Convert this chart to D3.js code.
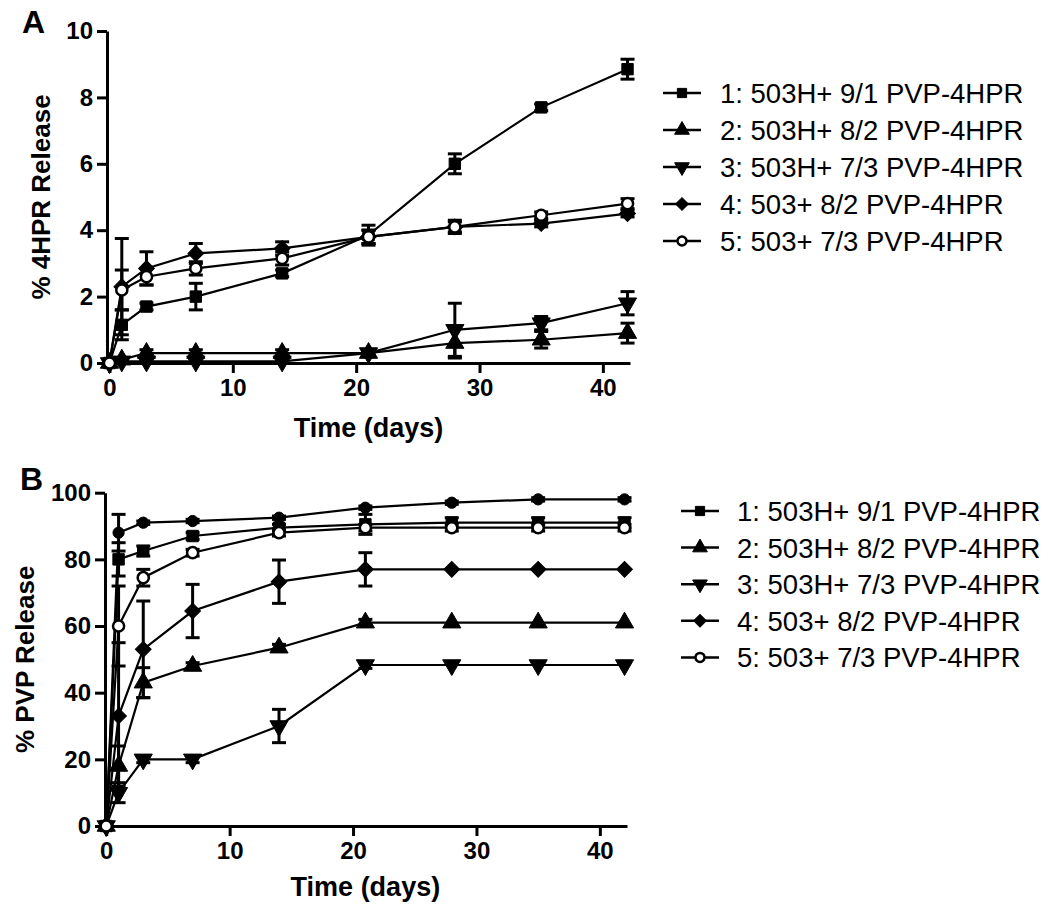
<!DOCTYPE html>
<html><head><meta charset="utf-8">
<script src="https://cdn.jsdelivr.net/npm/d3@7"></script>
<style>
body{margin:0;background:#fff;}
text{font-family:"Liberation Sans",Arial,sans-serif;fill:#000;}
</style></head>
<body><svg id="c" width="1050" height="912"></svg>
<script>
// ---------- DATA ----------
const timesA = [0, 1, 3, 7, 14, 21, 28, 35, 42];
const timesB = [0, 1, 3, 7, 14, 21, 28, 35, 42];
const legendLabels = ["1: 503H+ 9/1 PVP-4HPR","2: 503H+ 8/2 PVP-4HPR","3: 503H+ 7/3 PVP-4HPR","4: 503+ 8/2 PVP-4HPR","5: 503+ 7/3 PVP-4HPR"];
const markerTypes = ["square","triUp","triDown","diamond","openCircle"];

// Panel A: % 4HPR release (mean, error)
const a1 = [0, 1.15, 1.7, 2.0, 2.7, 3.85, 6.0, 7.7, 8.85];
const a1e = [0, 0.45, 0.1, 0.4, 0.1, 0.3, 0.3, 0.1, 0.3];
const a2 = [0, 0.1, 0.3, 0.3, 0.3, 0.3, 0.6, 0.7, 0.9];
const a2e = [0, 0.05, 0.1, 0.1, 0.1, 0.1, 0.45, 0.25, 0.3];
const a3 = [0, 0.05, 0.05, 0.05, 0.05, 0.3, 1.0, 1.2, 1.8];
const a3e = [0, 0, 0, 0, 0, 0.05, 0.8, 0.2, 0.35];
const a4 = [0, 2.3, 2.85, 3.3, 3.45, 3.8, 4.1, 4.2, 4.5];
const a4e = [0, 1.45, 0.5, 0.3, 0.2, 0.2, 0.15, 0.1, 0.1];
const a5 = [0, 2.2, 2.6, 2.85, 3.15, 3.8, 4.1, 4.45, 4.8];
const a5e = [0, 0.6, 0.25, 0.2, 0.2, 0.2, 0.2, 0.1, 0.15];

// Panel B: % PVP release (mean, error)
const b1 = [0, 80, 82.5, 87, 89.5, 90.5, 91, 91, 91];
const b1e = [0, 5, 1.5, 1, 1, 3, 1.5, 1.5, 1.5];
const b2 = [0, 18, 43, 48, 53.5, 61, 61, 61, 61];
const b2e = [0, 6, 4.5, 1, 1, 1, 0, 0, 0];
const b3 = [0, 10, 20, 20, 30, 48.3, 48.3, 48.3, 48.3];
const b3e = [0, 3, 1, 1, 5, 1, 0, 0, 0];
const b4 = [0, 33, 53, 64.5, 73.3, 77, 77, 77, 77];
const b4e = [0, 22, 14.5, 8, 6.5, 5, 0, 0, 0];
const b5 = [0, 60, 74.5, 82, 88, 89.5, 89.5, 89.5, 89.5];
const b5e = [0, 12, 2.5, 1, 1, 1, 1, 1, 1];
const b6 = [0, 88, 91, 91.5, 92.5, 95.5, 97, 98, 98];   // extra curve (filled dots), not in legend
const b6e = [0, 5.5, 0.5, 0.5, 0.5, 0.5, 0.5, 0.5, 0.5];

const xTicks = [0, 10, 20, 30, 40];
const yTicksA = [0, 2, 4, 6, 8, 10];
const yTicksB = [0, 20, 40, 60, 80, 100];

// ---------- DRAW ----------
const svg = d3.select("#c");

function symbolPath(type, size){
  switch(type){
    case "square": return d3.symbol().type(d3.symbolSquare).size(size*1.0)();
    case "triUp": return d3.symbol().type(d3.symbolTriangle).size(size*1.1)();
    case "triDown": return d3.symbol().type(d3.symbolTriangle).size(size*1.1)();
    case "diamond": return d3.symbol().type(d3.symbolSquare).size(size*0.95)();
    case "openCircle": return d3.symbol().type(d3.symbolCircle).size(size*0.75)();
    case "dot": return d3.symbol().type(d3.symbolCircle).size(size*0.9)();
  }
}
function drawMarker(g, type, x, y, size){
  const rot = type==="triDown" ? 180 : (type==="diamond" ? 45 : 0);
  g.append("path").attr("d", symbolPath(type, size))
    .attr("transform", `translate(${x},${y}) rotate(${rot})`)
    .attr("fill", type==="openCircle" ? "#fff" : "#000")
    .attr("stroke", "#000").attr("stroke-width", type==="openCircle" ? 2.5 : 1);
}

function panel(cfg){
  const g = svg.append("g");
  const x = d3.scaleLinear().domain(cfg.xDomain).range(cfg.xRange);
  const y = d3.scaleLinear().domain(cfg.yDomain).range(cfg.yRange);

  const xa = g.append("g").attr("transform", `translate(0,${cfg.yRange[0]})`)
    .call(d3.axisBottom(x).tickValues(xTicks).tickSize(10).tickSizeOuter(0).tickPadding(6));
  const ya = g.append("g").attr("transform", `translate(${cfg.xRange[0]},0)`)
    .call(d3.axisLeft(y).tickValues(cfg.yTicks).tickSize(10).tickSizeOuter(0).tickPadding(4));
  [xa, ya].forEach(a=>{
    a.select(".domain").attr("stroke","#000").attr("stroke-width",3);
    a.selectAll(".tick line").attr("stroke","#000").attr("stroke-width",3);
    a.selectAll(".tick text").attr("font-size",24).attr("font-weight","bold")
      .attr("font-family","'Liberation Sans',Arial,sans-serif").attr("fill","#000");
  });

  // axis titles
  g.append("text").attr("x", (x(0)+x(42))/2 ).attr("y", cfg.xTitleY)
    .attr("text-anchor","middle").attr("font-size",27).attr("font-weight","bold").text("Time (days)");
  g.append("text").attr("transform", `translate(${cfg.yTitleX},${(cfg.yRange[0]+cfg.yRange[1])/2}) rotate(-90)`)
    .attr("text-anchor","middle").attr("font-size",26).attr("font-weight","bold").text(cfg.yTitle);
  g.append("text").attr("x", cfg.letterX).attr("y", cfg.letterY)
    .attr("font-size",32).attr("font-weight","bold").text(cfg.letter);

  const line = d3.line().x(d=>x(d[0])).y(d=>y(d[1]));
  cfg.series.forEach(s=>{
    const pts = cfg.times.map((t,i)=>[t, s.v[i], s.e[i]]);
    const sg = g.append("g");
    // error bars
    pts.forEach(p=>{
      if(p[2] <= 0) return;
      const cx = x(p[0]);
      sg.append("line").attr("x1",cx).attr("x2",cx).attr("y1",y(p[1]-p[2])).attr("y2",y(p[1]+p[2]))
        .attr("stroke","#000").attr("stroke-width",3);
      [p[1]-p[2], p[1]+p[2]].forEach(v=>{
        sg.append("line").attr("x1",cx-7).attr("x2",cx+7).attr("y1",y(v)).attr("y2",y(v))
          .attr("stroke","#000").attr("stroke-width",3);
      });
    });
    sg.append("path").datum(pts).attr("d", line).attr("fill","none")
      .attr("stroke","#000").attr("stroke-width",2.2);
    pts.forEach(p=> drawMarker(sg, s.type, x(p[0]), y(p[1]), s.type==="dot"?110:130));
  });

  // legend
  cfg.legend.labels.forEach((lab,i)=>{
    const ly = cfg.legend.y0 + i*cfg.legend.dy;
    g.append("line").attr("x1",cfg.legend.x0).attr("x2",cfg.legend.x0+38).attr("y1",ly).attr("y2",ly)
      .attr("stroke","#000").attr("stroke-width",2.5);
    drawMarker(g, markerTypes[i], cfg.legend.x0+19, ly, 85);
    g.append("text").attr("x", cfg.legend.tx).attr("y", ly+10).attr("font-size",27.5).text(lab);
  });
}

panel({
  times: timesA, xDomain:[-0.2,42.2], xRange:[107,630], yDomain:[0,10], yRange:[363,31],
  yTicks: yTicksA, yTitle:"% 4HPR Release", yTitleX:50, xTitleY:437, letter:"A", letterX:22, letterY:33,
  series:[
    {v:a1,e:a1e,type:"square"},{v:a2,e:a2e,type:"triUp"},{v:a3,e:a3e,type:"triDown"},
    {v:a4,e:a4e,type:"diamond"},{v:a5,e:a5e,type:"openCircle"}],
  legend:{labels:legendLabels, x0:663, tx:720, y0:93, dy:37}
});
panel({
  times: timesB, xDomain:[-0.1,42.2], xRange:[105,627], yDomain:[0,100], yRange:[826,492.7],
  yTicks: yTicksB, yTitle:"% PVP Release", yTitleX:34, xTitleY:896, letter:"B", letterX:20, letterY:490,
  series:[
    {v:b6,e:b6e,type:"dot"},
    {v:b1,e:b1e,type:"square"},{v:b2,e:b2e,type:"triUp"},{v:b3,e:b3e,type:"triDown"},
    {v:b4,e:b4e,type:"diamond"},{v:b5,e:b5e,type:"openCircle"}],
  legend:{labels:legendLabels, x0:681, tx:737, y0:511, dy:36.6}
});
</script></body></html>
